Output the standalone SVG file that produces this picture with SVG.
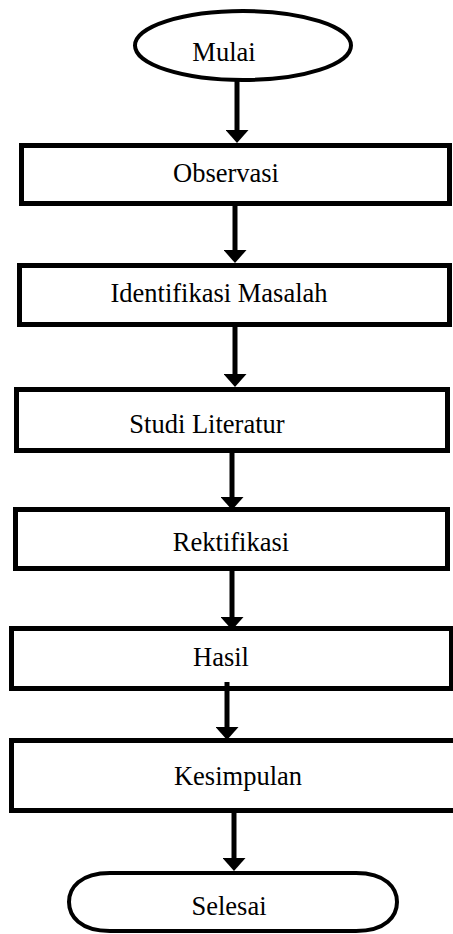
<svg xmlns="http://www.w3.org/2000/svg" width="453" height="934" viewBox="0 0 453 934">
  <style>
    .box { fill: #ffffff; stroke: #000000; stroke-width: 5; }
    .term { fill: #ffffff; stroke: #000000; stroke-width: 4; }
    .lbl { font-family: "Liberation Serif", "Times New Roman", serif; font-size: 26.5px; fill: #000000; text-anchor: middle; }
    .conn { stroke: #000000; stroke-width: 5; fill: none; marker-end: url(#arrow); }
  </style>
  <defs>
    <marker id="arrow" markerUnits="userSpaceOnUse" markerWidth="13" markerHeight="23" viewBox="0 0 13 23" refX="1" refY="11.5" orient="auto">
      <path d="M0,0 L13,11.5 L0,23 Z" fill="#000000"/>
    </marker>
  </defs>
  <rect width="453" height="934" fill="#ffffff"/>

  <g id="node-mulai">
    <ellipse class="term" cx="243" cy="45.5" rx="108" ry="34.5"/>
    <text class="lbl" x="224" y="61">Mulai</text>
  </g>
  <g id="node-observasi">
    <rect class="box" x="21.5" y="145.5" width="428" height="58"/>
    <text class="lbl" x="226" y="182">Observasi</text>
  </g>
  <g id="node-identifikasi">
    <rect class="box" x="19.5" y="265.5" width="430" height="59"/>
    <text class="lbl" x="219" y="302">Identifikasi Masalah</text>
  </g>
  <g id="node-studi">
    <rect class="box" x="16.5" y="389.5" width="431" height="61"/>
    <text class="lbl" x="207" y="433">Studi Literatur</text>
  </g>
  <g id="node-rektifikasi">
    <rect class="box" x="15.5" y="509.5" width="432" height="59"/>
    <text class="lbl" x="231" y="551">Rektifikasi</text>
  </g>
  <g id="node-hasil">
    <rect class="box" x="11.5" y="628.5" width="440" height="60"/>
    <text class="lbl" x="221" y="666">Hasil</text>
  </g>
  <g id="node-kesimpulan">
    <rect class="box" x="11.5" y="740.5" width="450" height="70"/>
    <text class="lbl" x="238" y="785">Kesimpulan</text>
  </g>
  <g id="node-selesai">
    <path class="term" d="M110,873 H356 C386,873 397,888 397,902 C397,916 386,931 356,931 H110 C80,931 69,916 69,902 C69,888 80,873 110,873 Z"/>
    <text class="lbl" x="229" y="915">Selesai</text>
  </g>

  <g id="connectors">
    <line class="conn" x1="237" y1="80" x2="237" y2="131"/>
    <line class="conn" x1="235" y1="206" x2="235" y2="251"/>
    <line class="conn" x1="235" y1="327" x2="235" y2="375"/>
    <line class="conn" x1="232" y1="453" x2="232" y2="498"/>
    <line class="conn" x1="232" y1="571" x2="232" y2="618"/>
    <line class="conn" x1="227" y1="682" x2="227" y2="728"/>
    <line class="conn" x1="234" y1="813" x2="234" y2="859"/>
  </g>
</svg>
